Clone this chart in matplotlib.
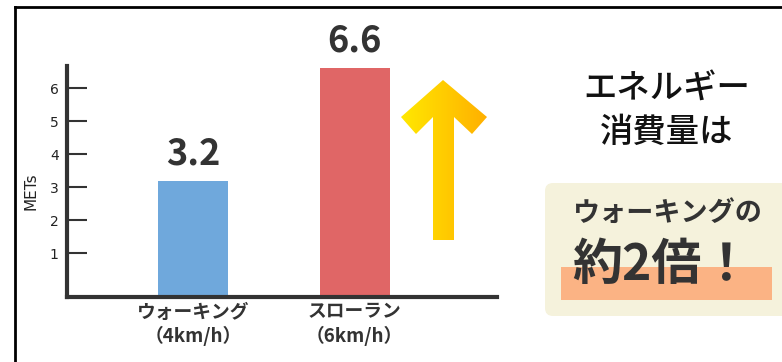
import numpy as np
import matplotlib.pyplot as plt
from matplotlib.patches import Polygon, FancyBboxPatch, Rectangle
from matplotlib.colors import LinearSegmentedColormap

categories = ['ウォーキング\n（4km/h）', 'スローラン\n（6km/h）']
mets = [3.2, 6.6]
bar_colors = ['#6FA8DC', '#E06666']
yticks = [1, 2, 3, 4, 5, 6]

jp = ['Noto Sans CJK JP', 'DejaVu Sans']
dark = '#333333'
y0 = -0.33

fig = plt.figure(figsize=(7.82, 3.62), dpi=100)

# overlay in pixel coords for the decorations
ov = fig.add_axes([0, 0, 1, 1])
ov.set_xlim(0, 782)
ov.set_ylim(362, 0)
ov.axis('off')
ov.plot([15, 782], [7, 7], color='black', lw=2)
ov.plot([15, 15], [7, 362], color='black', lw=2)

# chart
ax = fig.add_axes([67/782, 1-297/362, 430/782, 231/362])
x = np.arange(len(mets))
ax.bar(x, [v - y0 for v in mets], bottom=y0, width=0.43, color=bar_colors, zorder=2)
for xi, v in zip(x, mets):
    ax.text(xi, v + 0.5, f'{v}', ha='center', va='baseline', fontsize=26,
            fontweight='bold', color=dark, family=jp)
ax.set_xlim(-0.78, 1.88)
ax.set_ylim(y0, 6.67)
ax.set_yticks(yticks)
ax.set_yticklabels([str(t) for t in yticks])
ax.tick_params(axis='y', direction='in', length=14.5, width=1.5, color=dark,
               pad=6, labelsize=10, labelcolor='#222222')
ax.set_xticks(x)
ax.set_xticklabels(categories, fontsize=13.5, family=jp, color=dark,
                   linespacing=1.25, fontweight='bold')
ax.tick_params(axis='x', length=0, pad=4)
ax.set_ylabel('METs', fontsize=11, family='DejaVu Sans', color='#222222')
ax.yaxis.set_label_coords(-0.066, 0.46)
for s in ['top', 'right']:
    ax.spines[s].set_visible(False)
for s in ['left', 'bottom']:
    ax.spines[s].set_linewidth(3)
    ax.spines[s].set_color(dark)
ax.patch.set_alpha(0)

# gradient arrow
pts = [(443, 80), (487, 117), (472, 134), (454, 117), (454, 240),
       (433, 240), (433, 117), (416, 134), (401, 117)]
arrow = Polygon(pts, closed=True, facecolor='none', edgecolor='none')
ov.add_patch(arrow)
cmap = LinearSegmentedColormap.from_list('g', ['#FFE800', '#FFB000'])
grad = np.linspace(0, 1, 100).reshape(1, -1)
im = ov.imshow(grad, cmap=cmap, extent=(401, 487, 240, 80), aspect='auto')
im.set_clip_path(arrow)
ov.set_xlim(0, 782)
ov.set_ylim(362, 0)

# right side message
ov.text(667, 88, 'エネルギー', ha='center', va='center', fontsize=24,
        fontweight='medium', color='#111111', family=jp)
ov.text(667, 132, '消費量は', ha='center', va='center', fontsize=24,
        fontweight='medium', color='#111111', family=jp)
box = FancyBboxPatch((548, 186), 240, 127, boxstyle='round,pad=3,rounding_size=8',
                     facecolor='#F5F2DC', edgecolor='none')
ov.add_patch(box)
ov.add_patch(Rectangle((561, 267), 211, 33, facecolor='#FBB384', edgecolor='none'))
ov.text(667, 213, 'ウォーキングの', ha='center', va='center', fontsize=19.5,
        fontweight='bold', color=dark, family=jp)
ov.text(662, 266, '約2倍！', ha='center', va='center', fontsize=36,
        fontweight='bold', color=dark, family=jp)

fig.savefig('out.png', dpi=100)
